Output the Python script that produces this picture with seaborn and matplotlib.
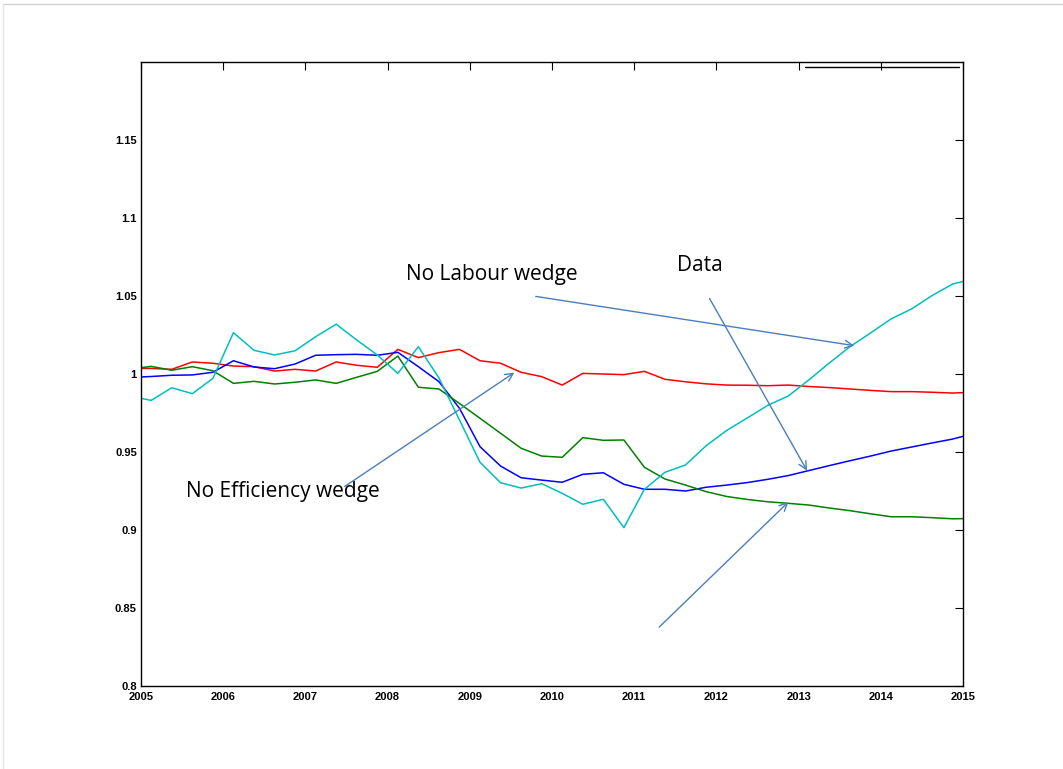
import numpy as np
import pandas as pd
import matplotlib
matplotlib.use('Agg')
import matplotlib.pyplot as plt
import seaborn as sns
from matplotlib.lines import Line2D

# quarterly points, the first and last lie just outside the 2005-2015 window
quarters = np.arange(2004.875, 2015.2, 0.25)

data_series = [0.9857, 0.9831, 0.9912, 0.9874, 0.9972, 1.0265, 1.0152, 1.0122, 1.0149, 1.0239,
               1.0319, 1.0218, 1.0122, 1.0004, 1.0175, 0.9975, 0.9705, 0.9434, 0.9303, 0.9269,
               0.9297, 0.9235, 0.9165, 0.9197, 0.9015, 0.9261, 0.9370, 0.9417, 0.9540, 0.9638,
               0.9718, 0.9799, 0.9859, 0.9962, 1.0071, 1.0175, 1.0263, 1.0353, 1.0417, 1.0503,
               1.0577, 1.0608]
no_labour = [0.9978, 0.9984, 0.9992, 0.9994, 1.0011, 1.0085, 1.0045, 1.0034, 1.0064, 1.0120,
             1.0124, 1.0126, 1.0120, 1.0139, 1.0047, 0.9951, 0.9780, 0.9534, 0.9410, 0.9335,
             0.9320, 0.9306, 0.9357, 0.9367, 0.9293, 0.9261, 0.9261, 0.9250, 0.9274, 0.9288,
             0.9304, 0.9325, 0.9349, 0.9381, 0.9413, 0.9444, 0.9474, 0.9506, 0.9532, 0.9558,
             0.9583, 0.9618]
no_efficiency = [1.0036, 1.0036, 1.0030, 1.0077, 1.0069, 1.0051, 1.0047, 1.0019, 1.0030, 1.0019,
                 1.0077, 1.0056, 1.0043, 1.0158, 1.0105, 1.0137, 1.0158, 1.0085, 1.0069, 1.0011,
                 0.9983, 0.9929, 1.0004, 1.0000, 0.9996, 1.0017, 0.9966, 0.9950, 0.9937, 0.9929,
                 0.9928, 0.9925, 0.9929, 0.9920, 0.9913, 0.9904, 0.9895, 0.9887, 0.9887, 0.9883,
                 0.9878, 0.9883]
fourth = [1.0032, 1.0049, 1.0024, 1.0047, 1.0021, 0.9940, 0.9953, 0.9936, 0.9947, 0.9962,
          0.9940, 0.9979, 1.0017, 1.0115, 0.9915, 0.9904, 0.9811, 0.9716, 0.9620, 0.9524,
          0.9474, 0.9466, 0.9592, 0.9575, 0.9577, 0.9402, 0.9327, 0.9288, 0.9246, 0.9215,
          0.9196, 0.9181, 0.9171, 0.9160, 0.9141, 0.9124, 0.9104, 0.9085, 0.9085, 0.9079,
          0.9072, 0.9074]

x_ticks = list(range(2005, 2016))
y_ticks = [0.8, 0.85, 0.9, 0.95, 1.0, 1.05, 1.1, 1.15]
y_labels = ['0.8', '0.85', '0.9', '0.95', '1', '1.05', '1.1', '1.15']

df = pd.DataFrame({'t': quarters, 'data': data_series, 'nolab': no_labour,
                   'noeff': no_efficiency, 'other': fourth})

sns.set_style('white')
plt.rcParams['font.family'] = ['Liberation Sans', 'DejaVu Sans']
plt.rcParams['text.color'] = 'black'
plt.rcParams['xtick.color'] = 'black'
plt.rcParams['ytick.color'] = 'black'

fig = plt.figure(figsize=(10.63, 7.69), dpi=100)
ax = fig.add_axes([0.1326, 0.1079, 0.7733, 0.8115])

sns.lineplot(data=df, x='t', y='noeff', color='#ff0000', lw=1.1, ax=ax)
sns.lineplot(data=df, x='t', y='nolab', color='#0000ff', lw=1.1, ax=ax)
sns.lineplot(data=df, x='t', y='other', color='#008000', lw=1.1, ax=ax)
sns.lineplot(data=df, x='t', y='data', color='#00bfbf', lw=1.1, ax=ax)

ax.set_xlim(2005, 2015)
ax.set_ylim(0.8, 1.2)
ax.set_xticks(x_ticks)
ax.set_xticklabels([str(y) for y in x_ticks], fontsize=8, fontweight='bold', color='black')
ax.set_yticks(y_ticks)
ax.set_yticklabels(y_labels, fontsize=8, fontweight='bold', color='black')
ax.tick_params(direction='in', length=6, width=0.8, top=True, right=True, pad=3)
ax.tick_params(axis='x', pad=4)
ax.set_xlabel('')
ax.set_ylabel('')
for s in ax.spines.values():
    s.set_visible(True)
    s.set_color('black')
    s.set_linewidth(1.0)

# collapsed legend remnant at top right
ax.add_line(Line2D([0.8078, 0.995], [0.9915, 0.9915], transform=ax.transAxes,
                   color='black', lw=1.0))

# annotations (added by hand in the original)
acol = '#4a7ebb'
afont = ['Open Sans', 'DejaVu Sans']
aprops = dict(arrowstyle='->', color=acol, lw=1.0, mutation_scale=14)
ax.text(2008.22, 1.0635, 'No Labour wedge', fontsize=15, family=afont, va='center', color='black')
ax.text(2011.52, 1.0695, 'Data', fontsize=15, family=afont, va='center', color='black')
ax.text(2005.55, 0.9245, 'No Efficiency wedge', fontsize=15, family=afont, va='center', color='black')
ax.annotate('', xy=(2013.71, 1.0179), xytext=(2009.77, 1.0500), arrowprops=aprops)
ax.annotate('', xy=(2013.12, 0.9365), xytext=(2011.90, 1.0500), arrowprops=aprops)
ax.annotate('', xy=(2009.57, 1.0019), xytext=(2007.45, 0.9269), arrowprops=aprops)
ax.annotate('', xy=(2012.90, 0.9192), xytext=(2011.28, 0.8365), arrowprops=aprops)

# light frame of the original page
fig.add_artist(Line2D([0.003, 1.0], [0.9948, 0.9948], transform=fig.transFigure,
                      color='#d0d0d0', lw=1.0))
fig.add_artist(Line2D([0.003, 0.003], [0.0, 0.9948], transform=fig.transFigure,
                      color='#e6e6e6', lw=1.0))

fig.savefig('out.png', dpi=100)
